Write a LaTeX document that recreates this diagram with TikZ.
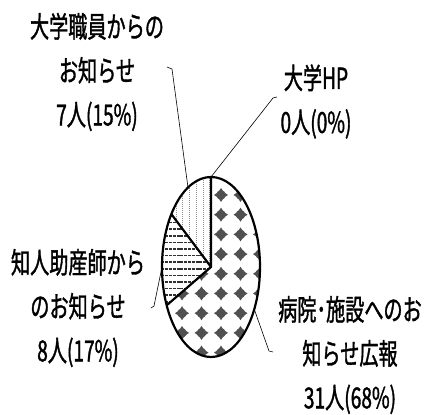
\documentclass[tikz,border=0pt]{standalone}
\usepackage{fontspec}
\usepackage{tikz}
\newfontfamily\jpfont[FakeStretch=0.66, FakeBold=1.2]{Noto Sans CJK JP}
\definecolor{blobgray}{HTML}{505050}
\definecolor{hatchgray}{HTML}{303030}
\definecolor{dotgray}{HTML}{909090}

\begin{document}
\begin{tikzpicture}[x=1pt,y=1pt,
		lbl/.style={font=\jpfont\fontsize{29}{44}\selectfont, align=center, inner sep=0pt},
		leader/.style={line width=0.6pt},
		rim/.style={line width=2.2pt, line join=round}]
				\def \cx {211}
				\def \cy {148}
				\def \rx {49}
				\def \ry {90}

				\useasboundingbox (0,0) rectangle (429,415);
				\coordinate (c) at (\cx,\cy);
				\path (c) ++(0,\ry) coordinate (a90);
				\path (c) ++({\rx*cos(144)},{\ry*sin(144)}) coordinate (a144);
				\path (c) ++({\rx*cos(205.2)},{\ry*sin(205.2)}) coordinate (a205);

				% 病院・施設 68%
				\begin{scope}
					\clip (c) -- (a90) arc[start angle=90, end angle=-154.8, x radius=\rx, y radius=\ry] -- cycle;
					\foreach \i in {-3,...,2} {
						\foreach \j in {0,...,9} {
							\fill[blobgray] (221+19.5*\i,220-19.7*\j) +(0,7) -- +(1.8,4.3) -- +(3.3,3.3) -- +(4.3,1.8) -- +(7,0) -- +(4.3,-1.8) -- +(3.3,-3.3) -- +(1.8,-4.3) -- +(0,-7) -- +(-1.8,-4.3) -- +(-3.3,-3.3) -- +(-4.3,-1.8) -- +(-7,0) -- +(-4.3,1.8) -- +(-3.3,3.3) -- +(-1.8,4.3) -- cycle;
						}
					}
				\end{scope}
				% 知人助産師 17%
				\begin{scope}
					\clip (c) -- (a205) arc[start angle=205.2, end angle=144, x radius=\rx, y radius=\ry] -- cycle;
					\foreach \y in {100,106.6,...,206} {
						\draw[hatchgray, line width=1.5pt, dash pattern=on 3pt off 0.8pt] (150,\y) -- (220,\y);
					}
				\end{scope}
				% 大学職員 15%
				\begin{scope}
					\clip (c) -- (a144) arc[start angle=144, end angle=90, x radius=\rx, y radius=\ry] -- cycle;
					\foreach \x in {169.5,176.2,...,215} {
						\draw[dotgray, line width=0.9pt, dash pattern=on 1pt off 1pt] (\x,140) -- (\x,240);
					}
				\end{scope}

				\draw[rim] (c) ellipse[x radius=\rx, y radius=\ry];
				\draw[rim] (a90) -- (c) -- (a205);
				\draw[rim] (c) -- (a144);

				\node[lbl] (staff) at (97,343) {大学職員からの\\お知らせ\\7人(15\%)};
				\node[lbl] (hp) at (316,313.5) {大学HP\\0人(0\%)};
				\node[lbl] (friend) at (78,107) {知人助産師から\\のお知らせ\\8人(17\%)};
				\node[lbl] (hosp) at (350,60) {病院･施設へのお\\知らせ広報\\31人(68\%)};

				\path (c) ++({\rx*cos(118)},{\ry*sin(118)}) coordinate (p1);
				\path (c) ++({\rx*cos(180)},{\ry*sin(180)}) coordinate (p3);
				\path (c) ++({\rx*cos(-28)},{\ry*sin(-28)}) coordinate (p4);
				\coordinate (e1) at (172,346);
				\coordinate (e2) at (273,317);
				\coordinate (e3) at (154,109);
				\coordinate (e4) at (269,64);
				\draw[leader] (p1) -- (e1) -- ++(-5,2);
				\draw[leader] (a90) -- (e2) -- ++(4,1);
				\draw[leader] (p3) -- (e3) -- ++(-3,-2);
				\draw[leader] (p4) -- (e4) -- ++(4,-1);
			\end{tikzpicture}
\end{document}
